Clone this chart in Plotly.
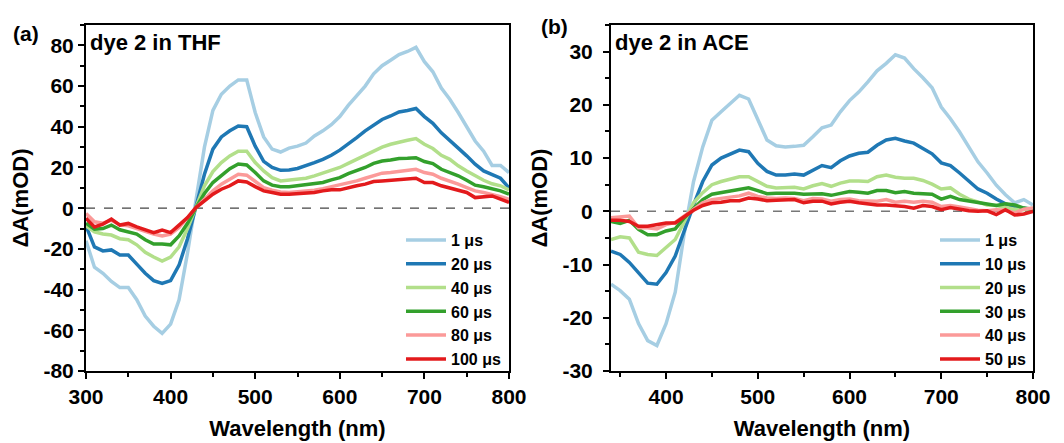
import plotly.graph_objects as go

# ---------------- data ----------------
wl_thf = list(range(300, 801, 10))
thf_1 = [-16, -29, -32, -36, -39, -39, -45, -53, -58, -61.5, -57, -45, -22, 4, 30, 48, 56, 60, 63, 63,
         47, 35, 29, 27.6, 29.5, 30.5, 32, 35.5, 38, 41, 45, 50.5, 55, 60, 66, 70, 72.7, 75.5, 77, 79,
         72, 67, 59, 53.5, 47, 40, 33, 28, 21, 21, 17.5]
thf_20 = [-8.7, -19, -21, -20.5, -23, -23, -27.5, -32, -35.6, -37, -35.6, -28, -15, 1, 16.7, 29, 35, 38, 40.4, 40,
          30.5, 23, 20, 18.6, 18.8, 19.5, 20.8, 22.4, 24, 26, 28.5, 31.4, 34.7, 38, 41, 43.6, 45.3, 47.3, 48, 49,
          45, 41.7, 37, 33, 29.5, 25.7, 21.6, 18.3, 16.4, 14.7, 10]
thf_40 = [-8.7, -11.6, -12.7, -13.2, -15, -15.5, -18, -21.7, -24, -26, -24, -19, -10, 1, 11, 18, 22.4, 25.7, 28, 28,
          22.4, 18.3, 15, 13.4, 13.7, 14.2, 14.7, 15.9, 17.2, 18.6, 20, 22, 24, 26, 28, 30, 31.4, 32.5, 33.4, 34.2,
          31.4, 29.3, 26, 24, 20.8, 18.3, 15.9, 13.7, 12, 11, 9]
thf_60 = [-7.4, -10.3, -10, -8.3, -10.6, -11.6, -12.7, -15.5, -17.6, -17.6, -18, -13.6, -7.4, 0.3, 7.2, 12.6, 16.2, 19.4, 21.7, 21.2,
          17.5, 13.4, 11.3, 10.5, 10.5, 11, 11.4, 11.8, 12.6, 13.9, 15, 17, 18.3, 20, 22, 23.2, 23.7, 24.4, 24.5, 24.8,
          22.9, 21.9, 19.1, 17.5, 15.9, 13.7, 11.3, 10.5, 9.7, 8.5, 6.9]
thf_80 = [-2.6, -6.7, -7.4, -5.9, -8.2, -8.7, -10, -11.4, -12.7, -13.6, -12.7, -9.5, -4.6, 0.3, 4.4, 8.5, 11.8, 14.2, 16.7, 16.2,
          13.4, 10.1, 8.8, 8, 7.7, 8, 8.5, 8.8, 9.6, 10.5, 11.3, 12.6, 13.4, 14.7, 15.9, 17.2, 17.5, 18, 18.6, 19.1,
          17.5, 16.7, 14.7, 13.4, 11.8, 10.1, 8.5, 7.7, 6.9, 5.7, 4.4]
thf_100 = [-5, -9.2, -7.8, -5.4, -8.3, -7.5, -9.2, -10.8, -12, -10.8, -12, -8.3, -4.6, 0.3, 3.6, 6.9, 9.3, 11, 13.4, 12.9,
           10.6, 8.5, 7.7, 6.9, 6.9, 7.2, 7.7, 7.7, 8.5, 9, 9, 10.1, 11, 11.8, 13.1, 13.4, 13.7, 13.9, 14.2, 14.7,
           12.6, 12.6, 11, 9.8, 9, 7.7, 5.2, 5.7, 6, 4.4, 2.8]
thf_labels = ["1 μs", "20 μs", "40 μs", "60 μs", "80 μs", "100 μs"]
thf_yticks = [-80, -60, -40, -20, 0, 20, 40, 60, 80]
thf_yticktext = ["-80", "-60", "-40", "-20", "0", "20", "40", "60", "80"]
thf_xticks = [300, 400, 500, 600, 700, 800]

wl_ace = list(range(340, 801, 10))
ace_1 = [-13.7, -14.9, -16.5, -21.1, -24.3, -25.2, -21.1, -15.2, -4, 5.6, 12.1, 17.1, 18.7, 20.2, 21.8, 21.1,
         17.1, 13.4, 12.3, 12.1, 12.2, 12.4, 14, 15.7, 16.2, 18.7, 20.8, 22.4, 24.3, 26.4, 27.8, 29.4, 28.8, 26.8,
         25.1, 23.2, 19.6, 17.4, 14.9, 12.1, 9.3, 7.2, 4.9, 3.1, 1.6, 2.2, 1.2]
ace_10 = [-7.5, -8.1, -9.6, -11.5, -13.5, -13.7, -11.5, -8.4, -3.4, 1.2, 5.6, 8.7, 10, 10.8, 11.5, 11.2,
          9, 7.5, 6.8, 6.8, 7, 6.8, 7.7, 8.6, 8.2, 9.5, 10.4, 10.9, 11.1, 12.4, 13.4, 13.7, 13.2, 12.8,
          11.8, 10.8, 9.1, 8.6, 7.2, 5.7, 4.2, 3.4, 2.3, 1.4, 0.8, 0.6, 0.3]
ace_20 = [-5.3, -4.8, -5, -7.7, -8.1, -8.3, -6.8, -5.3, -1.9, 1.6, 3.5, 5, 5.6, 6, 6.5, 6.5,
          5.6, 4.7, 4.4, 4.4, 4.5, 4.2, 4.8, 5.2, 4.7, 5.3, 5.7, 5.7, 5.6, 6.5, 6.8, 6.4, 6.2, 6.2,
          5.8, 5.1, 4.2, 4.4, 3.2, 2.3, 1.7, 1.2, 1.1, 0.8, 0.4, 0.3, 0.6]
ace_30 = [-1.9, -2.3, -1.7, -3.4, -4.4, -4.4, -3.7, -3.3, -1.2, 0.6, 2.2, 3.2, 3.5, 3.9, 4.2, 4.4,
          3.9, 3.3, 3.4, 3.4, 3.4, 3.2, 3.3, 3.3, 3, 3.4, 3.7, 3.6, 3.4, 3.9, 3.9, 3.5, 3.7, 3.4,
          3.3, 3.2, 2.3, 2.8, 2.2, 1.9, 1.6, 1.4, 1.1, 1.4, 1.2, 0.6, 0.4]
ace_40 = [-1.2, -1.1, -0.9, -3.1, -3.1, -3.3, -2.5, -2.1, -0.9, 0.4, 1.6, 2.2, 2.4, 2.7, 2.9, 3.4,
          2.8, 2.5, 2.4, 2.5, 2.4, 2, 2.4, 2.3, 1.9, 2.2, 2.3, 2, 1.9, 1.9, 2.2, 1.7, 1.9, 1.7,
          1.9, 1.7, 0.9, 1.1, 0.8, 0.5, 0.2, 0.1, 0.3, 0.2, -0.3, 0.4, 0.6]
ace_50 = [-1.7, -1.7, -1.9, -2.8, -2.8, -2.5, -2.2, -2.2, -0.9, 0.2, 1.1, 1.6, 1.7, 2, 2, 2.5,
          2.3, 2, 2.1, 2.1, 2.2, 1.6, 1.9, 1.9, 1.4, 1.7, 1.9, 1.6, 1.4, 1.2, 1.2, 1.1, 0.9, 0.6,
          1.1, 0.9, 0.3, 0.7, 0.4, 0.1, 0, 0.1, -0.6, 0.3, -0.7, -0.5, 0]
ace_labels = ["1 μs", "10 μs", "20 μs", "30 μs", "40 μs", "50 μs"]
ace_yticks = [-30, -20, -10, 0, 10, 20, 30]
ace_yticktext = ["-30", "-20", "-10", "0", "10", "20", "30"]
ace_xticks = [400, 500, 600, 700, 800]
ace_xminor = [350, 450, 550, 650, 750]

colors = ["#a6cee3", "#1f78b4", "#b2df8a", "#33a02c", "#fb9a99", "#e31a1c"]

FONT = "Liberation Sans, Arial, sans-serif"

fig = go.Figure()

for ys, lab, c in zip([thf_1, thf_20, thf_40, thf_60, thf_80, thf_100], thf_labels, colors):
    fig.add_trace(go.Scatter(x=wl_thf, y=ys, mode="lines", name=lab,
                             line=dict(color=c, width=3.5), xaxis="x", yaxis="y", legend="legend"))
for ys, lab, c in zip([ace_1, ace_10, ace_20, ace_30, ace_40, ace_50], ace_labels, colors):
    fig.add_trace(go.Scatter(x=wl_ace, y=ys, mode="lines", name=lab,
                             line=dict(color=c, width=3.5), xaxis="x2", yaxis="y2", legend="legend2"))

# zero lines
fig.add_shape(type="line", xref="x domain", yref="y", x0=0, x1=1, y0=0, y1=0,
              line=dict(color="#444", width=1.3, dash="dash"), layer="below")
fig.add_shape(type="line", xref="x2 domain", yref="y2", x0=0, x1=1, y0=0, y1=0,
              line=dict(color="#777", width=1.5, dash="dash"), layer="below")

W, H = 1064, 443
yd = [1 - 371 / H, 1 - 25 / H]
TICKF = dict(family=FONT, size=21, color="black", weight="bold")
TITLEF = dict(family=FONT, size=22, color="black", weight="bold")

def axis_common():
    return dict(showline=True, linecolor="black", linewidth=2, mirror=True, automargin=False,
                ticks="outside", ticklen=6, tickwidth=2, tickcolor="black",
                showgrid=False, zeroline=False, tickfont=TICKF)

MINOR = dict(ticks="outside", ticklen=4, tickwidth=2, tickcolor="black")

xa = axis_common()
xa.update(domain=[86 / W, 509 / W], range=[300, 800], tickvals=thf_xticks, anchor="y",
          minor=dict(dtick=50, **MINOR),
          title=dict(text="Wavelength (nm)", font=TITLEF, standoff=13))
ya = axis_common()
ya.update(domain=yd, range=[-80, 90], tickvals=thf_yticks, ticktext=thf_yticktext, anchor="x",
          minor=dict(dtick=10, **MINOR),
          title=dict(text="ΔA(mOD)", font=TITLEF, standoff=9))
xa2 = axis_common()
xa2.update(domain=[611 / W, 1033 / W], range=[340, 800], tickvals=ace_xticks, anchor="y2",
           minor=dict(tickvals=ace_xminor, **MINOR),
           title=dict(text="Wavelength (nm)", font=TITLEF, standoff=13))
ya2 = axis_common()
ya2.update(domain=yd, range=[-30, 35], tickvals=ace_yticks, ticktext=ace_yticktext, anchor="x2",
           minor=dict(dtick=5, **MINOR), ticklabelstandoff=6,
           title=dict(text="ΔA(mOD)", font=TITLEF, standoff=9))

leg_font = dict(family=FONT, size=16, color="black", weight="bold")
fig.update_layout(
    width=W, height=H, margin=dict(l=0, r=0, t=0, b=0),
    paper_bgcolor="white", plot_bgcolor="white",
    xaxis=xa, yaxis=ya, xaxis2=xa2, yaxis2=ya2,
    legend=dict(x=401 / W, y=1 - 223 / H, xanchor="left", yanchor="top", bgcolor="rgba(0,0,0,0)",
                font=leg_font, tracegroupgap=0, itemwidth=40),
    legend2=dict(x=935 / W, y=1 - 223 / H, xanchor="left", yanchor="top", bgcolor="rgba(0,0,0,0)",
                 font=leg_font, tracegroupgap=0, itemwidth=40),
    annotations=[
        dict(text="(a)", x=11 / W, y=1 - 33 / H, xref="paper", yref="paper", showarrow=False,
             xanchor="left", yanchor="middle", font=dict(family=FONT, size=21, color="black", weight="bold")),
        dict(text="(b)", x=539 / W, y=1 - 27 / H, xref="paper", yref="paper", showarrow=False,
             xanchor="left", yanchor="middle", font=dict(family=FONT, size=21, color="black", weight="bold")),
        dict(text="dye 2 in THF", x=88 / W, y=1 - 42 / H, xref="paper", yref="paper", showarrow=False,
             xanchor="left", yanchor="middle", font=dict(family=FONT, size=22, color="black", weight="bold")),
        dict(text="dye 2 in ACE", x=613 / W, y=1 - 42 / H, xref="paper", yref="paper", showarrow=False,
             xanchor="left", yanchor="middle", font=dict(family=FONT, size=22, color="black", weight="bold")),
    ],
)

fig.write_html("out.html")
